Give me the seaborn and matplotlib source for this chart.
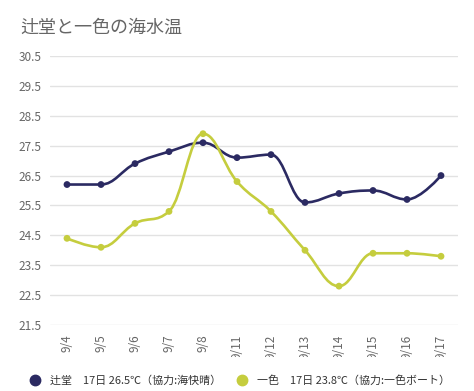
import numpy as np
import matplotlib
matplotlib.use("Agg")
import matplotlib.pyplot as plt
from matplotlib.path import Path
from matplotlib.patches import PathPatch
from matplotlib.transforms import Bbox
import pandas as pd
import seaborn as sns

dates = ["9/4", "9/5", "9/6", "9/7", "9/8", "9/11", "9/12", "9/13", "9/14", "9/15", "9/16", "9/17"]
tsujido = [26.2, 26.2, 26.9, 27.3, 27.6, 27.1, 27.2, 25.6, 25.9, 26.0, 25.7, 26.5]
isshiki = [24.4, 24.1, 24.9, 25.3, 27.9, 26.3, 25.3, 24.0, 22.8, 23.9, 23.9, 23.8]
series_names = ["辻堂　17日 26.5℃（協力:海快晴）", "一色　17日 23.8℃（協力:一色ボート）"]
colors = ["#2b2a62", "#c5cd3e"]
yticks = [21.5, 22.5, 23.5, 24.5, 25.5, 26.5, 27.5, 28.5, 29.5, 30.5]


def spline_path(xs, ys, smoothing=1.5):
    # smooth curve through the points, same idea as a Highcharts "spline"
    n = len(xs)
    denom = smoothing + 1
    lc = [(xs[i], ys[i]) for i in range(n)]
    rc = [(xs[i], ys[i]) for i in range(n)]
    for i in range(1, n - 1):
        px, py = xs[i], ys[i]
        lx, ly = xs[i - 1], ys[i - 1]
        nx_, ny = xs[i + 1], ys[i + 1]
        lcx = (smoothing * px + lx) / denom
        lcy = (smoothing * py + ly) / denom
        rcx = (smoothing * px + nx_) / denom
        rcy = (smoothing * py + ny) / denom
        if rcx != lcx:
            corr = (rcy - lcy) * (rcx - px) / (rcx - lcx) + py - rcy
            lcy += corr
            rcy += corr
        if lcy > ly and lcy > py:
            lcy = max(ly, py)
            rcy = 2 * py - lcy
        elif lcy < ly and lcy < py:
            lcy = min(ly, py)
            rcy = 2 * py - lcy
        if rcy > ny and rcy > py:
            rcy = max(ny, py)
            lcy = 2 * py - rcy
        elif rcy < ny and rcy < py:
            rcy = min(ny, py)
            lcy = 2 * py - rcy
        lc[i] = (lcx, lcy)
        rc[i] = (rcx, rcy)
    verts = [(xs[0], ys[0])]
    codes = [Path.MOVETO]
    for i in range(1, n):
        verts += [rc[i - 1], lc[i], (xs[i], ys[i])]
        codes += [Path.CURVE4] * 3
    return Path(verts, codes)


sns.set_theme(style="white")
plt.rcParams['font.family'] = ['Noto Sans CJK JP', 'DejaVu Sans']

fig = plt.figure(figsize=(4.74, 3.91), dpi=100)
ax = fig.add_axes([50 / 474, 1 - 325 / 391, 408 / 474, 269 / 391])

df = pd.DataFrame({"date": dates * 2,
                   "temp": tsujido + isshiki,
                   "name": [series_names[0]] * 12 + [series_names[1]] * 12})

idx = np.arange(len(dates))
for vals, c in zip([tsujido, isshiki], colors):
    ax.add_patch(PathPatch(spline_path(idx, vals), facecolor="none", edgecolor=c,
                           linewidth=1.9, zorder=3, capstyle="round", joinstyle="round"))

sns.scatterplot(data=df, x="date", y="temp", hue="name", palette=colors, s=24,
                edgecolor="none", ax=ax, zorder=4, legend=False)

ax.set_xlim(-0.5, len(dates) - 0.5)
ax.set_ylim(21.5, 30.5)
ax.set_yticks(yticks)
ax.set_yticklabels([f"{v:.1f}" for v in yticks])
ax.grid(axis="y", color="#e2e2e2", linewidth=1)
ax.set_axisbelow(True)
for s in ax.spines.values():
    s.set_visible(False)
ax.set_xlabel("")
ax.set_ylabel("")
ax.tick_params(axis="y", length=0, pad=6, labelsize=8.5, labelcolor="#666666")
ax.tick_params(axis="x", length=0, pad=7, labelsize=8.5, labelcolor="#666666")
clip = Bbox.from_extents(0, 391 - 357, 474, 391)
for lab in ax.get_xticklabels():
    lab.set_rotation(90)
    lab.set_va("top")
    lab.set_ha("center")
    lab.set_clip_box(clip)
    lab.set_clip_on(True)

fig.text(20 / 474, 1 - 28 / 391, "辻堂と一色の海水温", fontsize=13, color="#666666",
         va="center", ha="left")

handles = [plt.Line2D([], [], marker="o", linestyle="none", markersize=7.5,
                      markerfacecolor=c, markeredgecolor=c) for c in colors]
fig.legend(handles, series_names, loc="center", bbox_to_anchor=(0.5, 1 - 381 / 391),
           ncol=2, frameon=False, fontsize=7.9, handletextpad=0.4, columnspacing=0.9,
           labelcolor="#333333")

fig.savefig("out.png", dpi=100)
